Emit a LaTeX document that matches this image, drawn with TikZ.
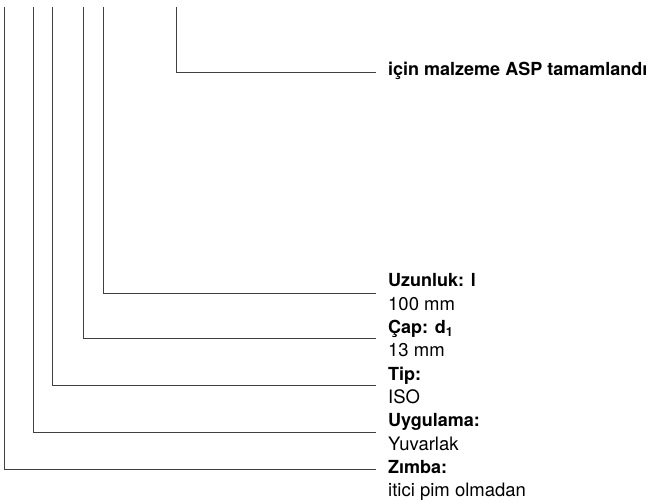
\documentclass[tikz,border=0pt]{standalone}
\usepackage{fontspec}
\setmainfont{TeX Gyre Heros}
\usetikzlibrary{positioning}

\begin{document}
\begin{tikzpicture}[x=1pt, y=-1pt,
        leader/.style={draw=black!75, line width=1pt},
        title/.style={anchor=base west, inner sep=0pt, font=\fontsize{18}{20}\selectfont\bfseries},
        value/.style={anchor=base west, inner sep=0pt, font=\fontsize{18.5}{20}\selectfont}]
        \useasboundingbox (0,0) rectangle (654,502);

        % Add the labels
        \node[title] (asp)  at (388,76)    {için malzeme ASP tamamlandı};
        \node[title] (len)  at (388,287)   {Uzunluk: l};
        \node[value] (lenv) at (388,310.3) {100 mm};
        \node[title] (dia)  at (388,333.6) {Çap: d\textsubscript{1}};
        \node[value] (diav) at (388,356.9) {13 mm};
        \node[title] (typ)  at (388,380.2) {Tip:};
        \node[value] (typv) at (388,403.5) {ISO};
        \node[title] (app)  at (388,426.8) {Uygulama:};
        \node[value] (appv) at (388,450.1) {Yuvarlak};
        \node[title] (pun)  at (388,473.4) {Zımba:};
        \node[value] (punv) at (388,496.7) {itici pim olmadan};

        % Add the line ends
        \coordinate (t0) at (176,7);   \coordinate (e0) at (376,73);
        \coordinate (t1) at (103,7);   \coordinate (e1) at (376,294);
        \coordinate (t2) at (83.5,7);  \coordinate (e2) at (376,339);
        \coordinate (t3) at (52.5,7);  \coordinate (e3) at (376,386);
        \coordinate (t4) at (33,7);    \coordinate (e4) at (376,433);
        \coordinate (t5) at (4.5,7);   \coordinate (e5) at (376,470);

        \foreach \i in {0,...,5}
            \draw[leader] (t\i) |- (e\i);
    \end{tikzpicture}
\end{document}
